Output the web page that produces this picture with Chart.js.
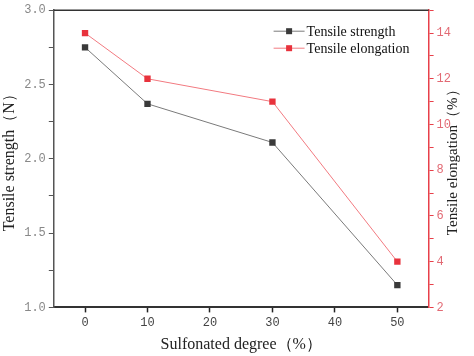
<!DOCTYPE html>
<html><head><meta charset="utf-8">
<script src="https://cdn.jsdelivr.net/npm/chart.js@4/dist/chart.umd.min.js"></script>
<style>html,body{margin:0;padding:0;background:#fff}#wrap{width:474px;height:356px}</style>
</head><body><div id="wrap"><canvas id="c"></canvas></div>
<script>
const xValues = [0, 10, 30, 50];
const strength = [2.75, 2.37, 2.11, 1.15];
const elongation = [14, 12, 11, 4];
const xTicks = [0, 10, 20, 30, 40, 50];
const yLeftTicks = [1.0, 1.25, 1.5, 1.75, 2.0, 2.25, 2.5, 2.75, 3.0];
const yRightTicks = [2, 3, 4, 5, 6, 7, 8, 9, 10, 11, 12, 13, 14, 15];
const labels = ['Tensile strength', 'Tensile elongation'];
const xTitle = 'Sulfonated degree（%）';
const yLeftTitle = 'Tensile strength（N）';
const yRightTitle = 'Tensile elongation（%）';

const BLACK = '#3a3a3a', RED = '#e8323c';
const tickFont = {family: 'Liberation Mono', size: 12};
const serif = 'Liberation Serif';

const extras = {
  id: 'extras',
  afterDraw(chart) {
    const ctx = chart.ctx, a = chart.chartArea;
    ctx.save();
    ctx.strokeStyle = '#333'; ctx.lineWidth = 1.5;
    ctx.beginPath(); ctx.moveTo(a.left, a.top); ctx.lineTo(a.right, a.top); ctx.stroke();
    ctx.fillStyle = '#222';
    ctx.font = '15px ' + serif;
    ctx.textAlign = 'center'; ctx.textBaseline = 'middle';
    ctx.translate(a.right + 24, (a.top + a.bottom) / 2);
    ctx.rotate(-Math.PI / 2);
    ctx.fillText(yRightTitle, 0, 0);
    ctx.restore();
    ctx.save();
    ctx.font = '14px ' + serif;
    ctx.textAlign = 'left'; ctx.textBaseline = 'middle';
    chart.data.datasets.forEach((ds, i) => {
      const y = a.top + 21 + i * 17;
      const x0 = a.right - 155;
      ctx.strokeStyle = ds.borderColor; ctx.lineWidth = 1;
      ctx.beginPath(); ctx.moveTo(x0, y); ctx.lineTo(x0 + 31, y); ctx.stroke();
      ctx.fillStyle = ds.pointBackgroundColor;
      ctx.fillRect(x0 + 12.5, y - 3, 6, 6);
      ctx.fillStyle = '#111';
      ctx.fillText(ds.label, x0 + 33, y + 1);
    });
    ctx.restore();
  }
};

new Chart(document.getElementById('c'), {
  type: 'line',
  data: {
    datasets: [
      {label: labels[0], data: xValues.map((x, i) => ({x, y: strength[i]})), yAxisID: 'y',
       borderColor: '#7a7a7a', borderWidth: 1, pointStyle: 'rect', pointRadius: 4.5,
       pointBackgroundColor: BLACK, pointBorderColor: BLACK, pointBorderWidth: 0, tension: 0},
      {label: labels[1], data: xValues.map((x, i) => ({x, y: elongation[i]})), yAxisID: 'y1',
       borderColor: '#f27a80', borderWidth: 1, pointStyle: 'rect', pointRadius: 4.5,
       pointBackgroundColor: RED, pointBorderColor: RED, pointBorderWidth: 0, tension: 0}
    ]
  },
  options: {
    responsive: true, maintainAspectRatio: false, animation: false,
    layout: {padding: {top: 6, right: 20, left: 0, bottom: 2}},
    plugins: {legend: {display: false}, tooltip: {enabled: false}},
    scales: {
      x: {
        type: 'linear', min: -5, max: 55,
        afterBuildTicks: s => { s.ticks = xTicks.map(v => ({value: v})); },
        grid: {drawOnChartArea: false, drawTicks: true, tickLength: 5, tickColor: '#222', tickWidth: 1.5},
        border: {display: true, color: '#333', width: 2},
        ticks: {font: tickFont, color: '#444', padding: 3},
        title: {display: true, text: xTitle, font: {family: serif, size: 16}, color: '#222', padding: {top: 2, bottom: 0}}
      },
      y: {
        type: 'linear', position: 'left', min: 1, max: 3,
        afterBuildTicks: s => { s.ticks = yLeftTicks.map(v => ({value: v})); },
        grid: {drawOnChartArea: false, drawTicks: true, tickLength: 5, tickColor: '#555', tickWidth: 1},
        border: {display: true, color: '#555', width: 1.5},
        ticks: {font: tickFont, color: '#888', padding: 3,
          callback: v => (Math.abs(v * 2 - Math.round(v * 2)) < 1e-6 ? v.toFixed(1) : '')},
        title: {display: true, text: yLeftTitle, font: {family: serif, size: 16}, color: '#222', padding: {top: 0, bottom: 2}}
      },
      y1: {
        type: 'linear', position: 'right', min: 2, max: 15,
        afterBuildTicks: s => { s.ticks = yRightTicks.map(v => ({value: v})); },
        grid: {drawOnChartArea: false, drawTicks: true, tickLength: 5, tickColor: '#e8404a', tickWidth: 1},
        border: {display: true, color: '#e8404a', width: 1.5},
        ticks: {font: tickFont, color: '#e26a74', padding: 3,
          callback: v => (v % 2 === 0 ? String(v) : '')}
      }
    }
  },
  plugins: [extras]
});
</script></body></html>
